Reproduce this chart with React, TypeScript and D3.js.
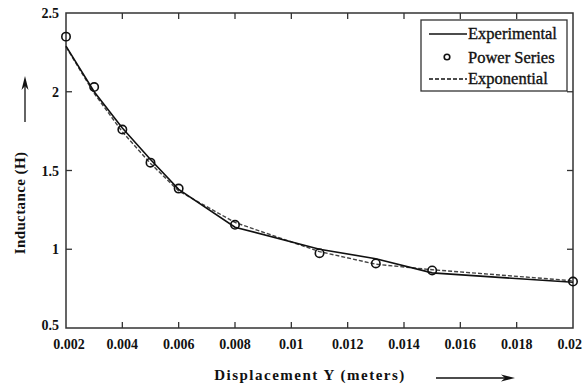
import React, { useEffect, useRef } from 'react';
import * as d3 from 'd3';

// values
const powerX = [0.002, 0.003, 0.004, 0.005, 0.006, 0.008, 0.011, 0.013, 0.015, 0.02];
const powerY = [2.35, 2.03, 1.76, 1.55, 1.385, 1.155, 0.975, 0.91, 0.865, 0.795];

const expX = [0.002, 0.003, 0.004, 0.005, 0.006, 0.008, 0.011, 0.013, 0.015, 0.02];
const expY = [2.285, 1.99, 1.745, 1.545, 1.37, 1.17, 0.985, 0.905, 0.87, 0.8];

const experX = [0.002, 0.003, 0.004, 0.005, 0.006, 0.008, 0.011, 0.013, 0.015, 0.02];
const experY = [2.29, 2.0, 1.77, 1.57, 1.38, 1.14, 1.0, 0.94, 0.85, 0.79];

const xTicks = [0.002, 0.004, 0.006, 0.008, 0.01, 0.012, 0.014, 0.016, 0.018, 0.02];
const yTicks = [0.5, 1, 1.5, 2, 2.5];

const W = 583;
const H = 385;
const margin = { top: 13, right: 10, bottom: 57, left: 66 };
const font = '"Liberation Serif", serif';

export default function App() {
    const svgRef = useRef<SVGSVGElement>(null);

    useEffect(() => {
        const svg = d3.select(svgRef.current);
        svg.selectAll('*').remove();

        const x = d3.scaleLinear().domain([0.002, 0.02]).range([margin.left, W - margin.right]);
        const y = d3.scaleLinear().domain([0.5, 2.5]).range([H - margin.bottom, margin.top]);
        const [x0, x1] = x.range();
        const [y0, y1] = y.range();

        // frame
        svg.append('rect')
            .attr('x', x0).attr('y', y1)
            .attr('width', x1 - x0).attr('height', y0 - y1)
            .attr('fill', 'none').attr('stroke', '#333').attr('stroke-width', 1.5);

        const tl = 6;
        // inward ticks on all sides
        xTicks.slice(1, -1).forEach(t => {
            svg.append('line').attr('x1', x(t)).attr('x2', x(t)).attr('y1', y0).attr('y2', y0 - tl)
                .attr('stroke', '#333').attr('stroke-width', 1.3);
            svg.append('line').attr('x1', x(t)).attr('x2', x(t)).attr('y1', y1).attr('y2', y1 + tl)
                .attr('stroke', '#333').attr('stroke-width', 1.3);
        });
        yTicks.slice(1, -1).forEach(t => {
            svg.append('line').attr('x1', x0).attr('x2', x0 + tl).attr('y1', y(t)).attr('y2', y(t))
                .attr('stroke', '#333').attr('stroke-width', 1.3);
            svg.append('line').attr('x1', x1).attr('x2', x1 - tl).attr('y1', y(t)).attr('y2', y(t))
                .attr('stroke', '#333').attr('stroke-width', 1.3);
        });

        // tick labels (last one pinned to the right edge so it is not clipped)
        const lastTick = xTicks[xTicks.length - 1];
        svg.append('g').selectAll('text').data(xTicks).join('text')
            .attr('x', d => d === lastTick ? W - 1 : x(d) + (d === 0.002 ? 3 : 0))
            .attr('y', y0 + 21)
            .attr('text-anchor', d => d === lastTick ? 'end' : 'middle')
            .style('font-family', font).attr('font-weight', 'bold').attr('font-size', 14)
            .attr('fill', '#111')
            .text(d => String(+d.toFixed(3)));

        svg.append('g').selectAll('text').data(yTicks).join('text')
            .attr('x', x0 - 7)
            .attr('y', d => y(d) + (d === 0.5 ? 2 : 5))
            .attr('text-anchor', 'end')
            .style('font-family', font).attr('font-weight', 'bold').attr('font-size', 14)
            .attr('fill', '#111')
            .text(d => String(d));

        // axis titles
        svg.append('text')
            .attr('transform', `translate(25,${203}) rotate(-90)`)
            .attr('text-anchor', 'middle')
            .style('font-family', font).attr('font-weight', 'bold').attr('font-size', 15)
            .attr('letter-spacing', 0.4)
            .attr('fill', '#111')
            .text('Inductance (H)');
        svg.append('text')
            .attr('x', 310).attr('y', 380)
            .attr('text-anchor', 'middle')
            .style('font-family', font).attr('font-weight', 'bold').attr('font-size', 15)
            .attr('letter-spacing', 1.5)
            .attr('fill', '#111')
            .text('Displacement Y (meters)');

        // arrows
        svg.append('line').attr('x1', 25).attr('x2', 25).attr('y1', 122).attr('y2', 82)
            .attr('stroke', '#111').attr('stroke-width', 1.3);
        svg.append('path').attr('d', 'M25,76 L21.5,90 L25,86 L28.5,90 Z').attr('fill', '#111');
        svg.append('line').attr('x1', 436).attr('x2', 509).attr('y1', 378).attr('y2', 378)
            .attr('stroke', '#111').attr('stroke-width', 1.3);
        svg.append('path').attr('d', 'M515,378 L501,374.5 L505,378 L501,381.5 Z').attr('fill', '#111');

        const line = d3.line<[number, number]>().x(d => x(d[0])).y(d => y(d[1]));

        // exponential (dashed)
        svg.append('path')
            .datum(expX.map((v, i) => [v, expY[i]] as [number, number]))
            .attr('d', line)
            .attr('fill', 'none').attr('stroke', '#444').attr('stroke-width', 1.4)
            .attr('stroke-dasharray', '4,2');

        // experimental (solid)
        svg.append('path')
            .datum(experX.map((v, i) => [v, experY[i]] as [number, number]))
            .attr('d', line)
            .attr('fill', 'none').attr('stroke', '#111').attr('stroke-width', 1.6);

        // power series (circles)
        svg.append('g').selectAll('circle')
            .data(powerX.map((v, i) => [v, powerY[i]]))
            .join('circle')
            .attr('cx', d => x(d[0])).attr('cy', d => y(d[1]))
            .attr('r', 4.2)
            .attr('fill', 'none').attr('stroke', '#111').attr('stroke-width', 1.6);

        // legend
        const lg = svg.append('g');
        lg.append('rect').attr('x', 421).attr('y', 20).attr('width', 146).attr('height', 71)
            .attr('fill', 'white').attr('stroke', '#333').attr('stroke-width', 1.3);
        const rows = [
            { label: 'Experimental', y: 34, kind: 'solid' },
            { label: 'Power Series', y: 58, kind: 'circle' },
            { label: 'Exponential', y: 79, kind: 'dash' },
        ];
        rows.forEach(r => {
            if (r.kind === 'solid') {
                lg.append('line').attr('x1', 429).attr('x2', 467).attr('y1', r.y).attr('y2', r.y)
                    .attr('stroke', '#111').attr('stroke-width', 1.6);
            } else if (r.kind === 'dash') {
                lg.append('line').attr('x1', 429).attr('x2', 467).attr('y1', r.y).attr('y2', r.y)
                    .attr('stroke', '#111').attr('stroke-width', 1.4).attr('stroke-dasharray', '4,2');
            } else {
                lg.append('circle').attr('cx', 447).attr('cy', r.y - 1).attr('r', 2.8)
                    .attr('fill', 'none').attr('stroke', '#111').attr('stroke-width', 1.6);
            }
            lg.append('text').attr('x', 468).attr('y', r.y + 5)
                .style('font-family', font).attr('font-size', 16.5)
                .attr('fill', '#111').attr('stroke', '#111').attr('stroke-width', 0.35)
                .text(r.label);
        });
    }, []);

    return (
        <svg ref={svgRef} width={W} height={H}
            style={{ position: 'absolute', left: 0, top: 0, background: 'white' }} />
    );
}
